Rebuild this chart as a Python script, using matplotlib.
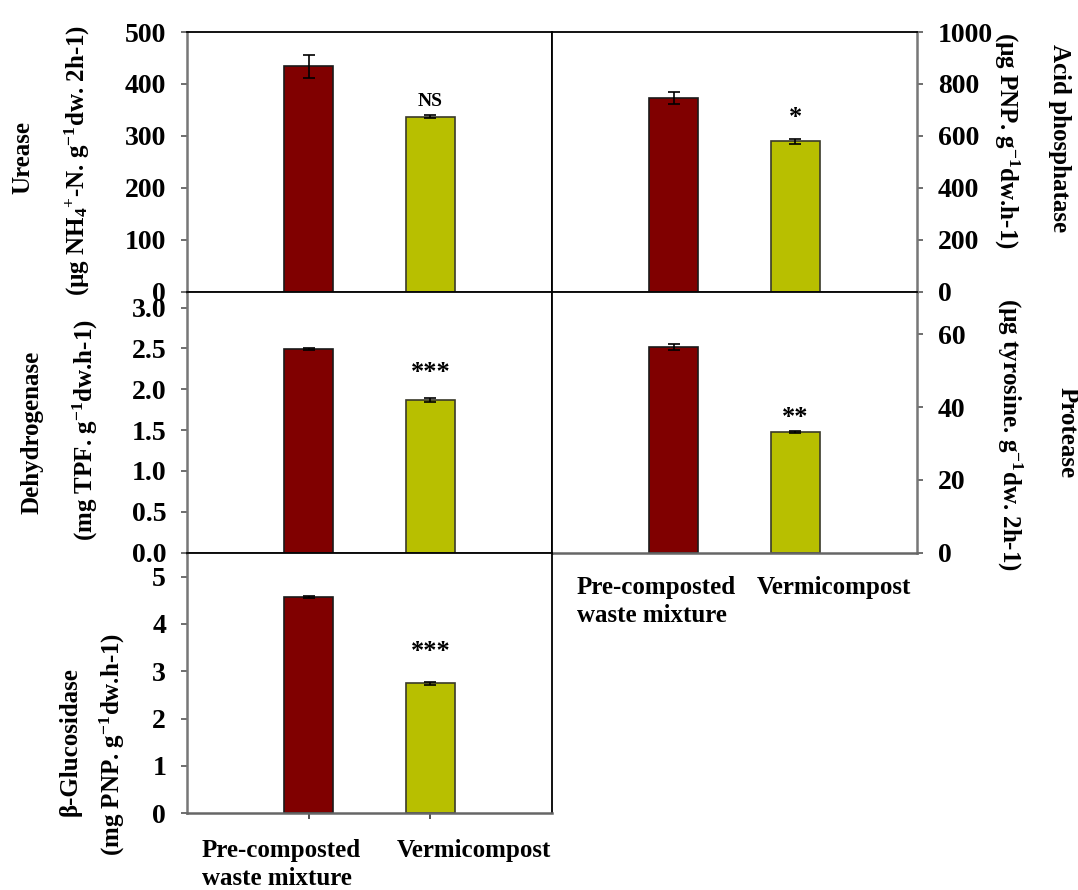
import numpy as np
import matplotlib
matplotlib.use('Agg')
import matplotlib.pyplot as plt

plt.rcParams['font.family'] = ['Liberation Serif', 'DejaVu Serif']
plt.rcParams['font.weight'] = 'bold'
plt.rcParams['mathtext.fontset'] = 'custom'
plt.rcParams['mathtext.rm'] = 'Liberation Serif:bold'
plt.rcParams['mathtext.it'] = 'Liberation Serif:bold'
plt.rcParams['mathtext.bf'] = 'Liberation Serif:bold'
plt.rcParams['mathtext.default'] = 'rm'

### data
treatments = ['Pre-composted\nwaste mixture', 'Vermicompost']

urease = [434, 337]
urease_err = [22, 3]
acid_phos = [745, 579]
acid_phos_err = [22, 9]
dehydrogenase = [2.49, 1.87]
dehydrogenase_err = [0.01, 0.02]
protease = [56.6, 33.1]
protease_err = [0.8, 0.2]
glucosidase = [4.57, 2.75]
glucosidase_err = [0.02, 0.03]

# significance marks and their height (data units)
sig_urease, sig_urease_y = 'NS', 366
sig_acid, sig_acid_y = '*', 684
sig_dehyd, sig_dehyd_y = '***', 2.25
sig_prot, sig_prot_y = '**', 38.1
sig_gluc, sig_gluc_y = '***', 3.49

bar_colors = ['#800000', '#B8BF00']
edge_colors = ['#1a1a1a', '#3a3a2a']
W, H = 1078, 890
fig = plt.figure(figsize=(W / 100, H / 100), dpi=100)


def px_axes(x0, y0, x1, y1):
    # pixel box (top-left origin) -> axes
    return fig.add_axes([x0 / W, 1 - y1 / H, (x1 - x0) / W, (y1 - y0) / H])


def panel(ax, vals, errs, ylim, yticks, fmt, right=False):
    x = np.arange(1, len(vals) + 1)
    ax.bar(x, vals, width=0.4, color=bar_colors, edgecolor=edge_colors,
           linewidth=1.2, zorder=2)
    ax.errorbar(x, vals, yerr=errs, fmt='none', ecolor='black',
                elinewidth=1.2, capsize=4, capthick=1.2, zorder=3)
    ax.set_xlim(0, 3)
    ax.set_ylim(*ylim)
    ax.set_yticks(yticks)
    ax.set_yticklabels([fmt.format(t) for t in yticks])
    ax.set_xticks([])
    for s in ax.spines.values():
        s.set_color('black')
        s.set_linewidth(1.3)
    ax.spines['bottom'].set_color('#666666')
    ax.spines['bottom'].set_linewidth(1.8)
    if right:
        ax.yaxis.tick_right()
        ax.spines['right'].set_color('#777777')
        ax.spines['right'].set_linewidth(1.8)
    else:
        ax.spines['left'].set_color('#777777')
        ax.spines['left'].set_linewidth(1.8)
    ax.tick_params(axis='y', direction='out', length=4, width=1.2,
                   color='#555555', labelsize=20, pad=11)
    for lab in ax.get_yticklabels():
        lab.set_fontweight('bold')


def sig(ax, text, y, size=19, weight='bold'):
    # asterisks sit high in the glyph box, so anchor on baseline and shift down
    ax.annotate(text, (2, y), xytext=(0, -0.38 * size), textcoords='offset points',
                ha='center', va='baseline', fontsize=size, fontweight=weight,
                zorder=4)


ax1 = px_axes(187, 32, 552, 291.5)
panel(ax1, urease, urease_err, (0, 500), [0, 100, 200, 300, 400, 500], '{:.0f}')
ax1.text(2, sig_urease_y, sig_urease, ha='center', va='center', fontsize=14,
         fontweight='bold', zorder=4)

ax2 = px_axes(552, 32, 917, 291.5)
panel(ax2, acid_phos, acid_phos_err, (0, 1000), [0, 200, 400, 600, 800, 1000],
      '{:.0f}', right=True)
sig(ax2, sig_acid, sig_acid_y)

ax3 = px_axes(187, 292, 552, 552.7)
panel(ax3, dehydrogenase, dehydrogenase_err, (0, 3.19),
      [0, 0.5, 1.0, 1.5, 2.0, 2.5, 3.0], '{:.1f}')
sig(ax3, sig_dehyd, sig_dehyd_y)

ax4 = px_axes(552, 292, 917, 552.7)
panel(ax4, protease, protease_err, (0, 71.6), [0, 20, 40, 60], '{:.0f}',
      right=True)
sig(ax4, sig_prot, sig_prot_y)

ax5 = px_axes(187, 553, 552, 813.3)
panel(ax5, glucosidase, glucosidase_err, (0, 5.5), [0, 1, 2, 3, 4, 5], '{:.0f}')
sig(ax5, sig_gluc, sig_gluc_y)
ax5.set_xticks([1, 2])
ax5.set_xticklabels(['', ''])
ax5.tick_params(axis='x', direction='out', length=4, width=1.2, color='#333333')

# category labels under the bottom and middle-right panels
ax5.text(0.04, -0.1, treatments[0], transform=ax5.transAxes, ha='left',
         va='top', fontsize=18, fontweight='bold', linespacing=1.25)
ax5.text(0.997, -0.1, treatments[1], transform=ax5.transAxes, ha='right',
         va='top', fontsize=18, fontweight='bold')
ax4.text(0.068, -0.09, treatments[0], transform=ax4.transAxes, ha='left',
         va='top', fontsize=18, fontweight='bold', linespacing=1.25)
ax4.text(0.561, -0.09, treatments[1], transform=ax4.transAxes, ha='left',
         va='top', fontsize=18, fontweight='bold')


def ylab(x, y, text, rot=90):
    fig.text(x / W, 1 - y / H, text, rotation=rot, ha='center', va='center',
             fontsize=18, fontweight='bold')


ylab(23, 157, 'Urease')
ylab(77, 160, r'(µg NH$_4$$^{+}$-N. g$^{-1}$dw. 2h-1)')
ylab(1060, 138, 'Acid phosphatase', rot=-90)
ylab(1007, 140, r'(µg PNP. g$^{-1}$dw.h-1)', rot=-90)
ylab(32, 432, 'Dehydrogenase')
ylab(85, 430, r'(mg TPF. g$^{-1}$dw.h-1)')
ylab(1067, 433, 'Protease', rot=-90)
ylab(1010, 435, r'(µg tyrosine. g$^{-1}$dw. 2h-1)', rot=-90)
ylab(70, 742, 'β-Glucosidase')
ylab(112, 744, r'(mg PNP. g$^{-1}$dw.h-1)')

fig.savefig('out.png', dpi=100)
